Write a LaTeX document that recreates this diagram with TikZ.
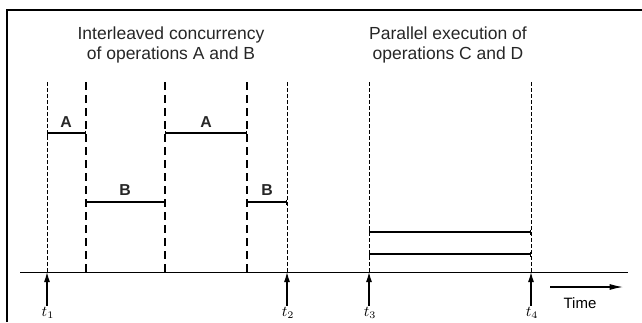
\documentclass[tikz,border=0pt]{standalone}
\usepackage{fontspec}
\setmainfont{Liberation Sans}
\usetikzlibrary{arrows.meta,positioning}

\begin{document}
\begin{tikzpicture}[x=0.6pt, y=-0.6pt,
  fine/.style={dash pattern=on 2.4pt off 1.2pt, line width=0.55pt},
  coarse/.style={dash pattern=on 4.8pt off 3pt, line width=0.7pt},
  span/.style={line width=0.7pt, {Bar[width=3pt]}-{Bar[width=3pt]}},
  instant/.style={-{Latex[length=6pt,width=3.6pt]}, line width=0.7pt},
  title/.style={align=center, font=\fontsize{10.5}{12}\selectfont, text=black!85},
  seg/.style={font=\fontsize{9.5}{11}\selectfont\bfseries, text=black!85, inner sep=1pt},
  tlabel/.style={font=\fontsize{9}{10}\selectfont, inner sep=1pt}
]
\useasboundingbox (0,0) rectangle (642,322);
% frame
\draw[line width=1.2pt] (7,322) |- (642,10);

% titles
\node[title] (inter) at (171,45) {Interleaved concurrency\\of operations A and B};
\node[title] (para) at (448,45) {Parallel execution of\\operations C and D};

% time axis
\coordinate (axl) at (20,272);
\coordinate (axr) at (628,272);
\draw[line width=0.6pt] (axl) -- (axr);

% time marks: top and axis points
\coordinate (m1) at (47,82);  \coordinate (a1) at (47,272);
\coordinate (m2) at (86,82);  \coordinate (a2) at (86,272);
\coordinate (m3) at (165,82); \coordinate (a3) at (165,272);
\coordinate (m4) at (247,82); \coordinate (a4) at (247,272);
\coordinate (m5) at (287,82); \coordinate (a5) at (287,272);
\coordinate (m6) at (369,82); \coordinate (a6) at (369,272);
\coordinate (m7) at (531,82); \coordinate (a7) at (531,272);

\draw[fine] (m1) -- (a1);
\draw[coarse] (m2) -- (a2);
\draw[coarse] (m3) -- (a3);
\draw[coarse] (m4) -- (a4);
\draw[fine] (m5) -- (a5);
\draw[fine] (m6) -- (a6);
\draw[fine] (m7) -- (a7);

% operation A
\draw[span] (47,133) coordinate (aS1) -- (86,133) coordinate (aE1);
\draw[span] (165,133) coordinate (aS2) -- (247,133) coordinate (aE2);
\node[seg] (opA1) at (66,122) {A};
\node[seg] (opA2) at (206,122) {A};

% operation B
\draw[span] (86,202) coordinate (bS1) -- (165,202) coordinate (bE1);
\draw[span] (247,202) coordinate (bS2) -- (287,202) coordinate (bE2);
\node[seg] (opB1) at (125,190) {B};
\node[seg] (opB2) at (267,190) {B};

% operations C and D
\draw[span] (369,232) coordinate (cS) -- (531,232) coordinate (cE);
\draw[span] (369,254) coordinate (dS) -- (531,254) coordinate (dE);

% instants
\node[tlabel] (t1) at (48,313) {$t_1$};
\node[tlabel] (t2) at (288,313) {$t_2$};
\node[tlabel] (t3) at (370,313) {$t_3$};
\node[tlabel] (t4) at (532,313) {$t_4$};
\draw[instant] (t1.north -| a1) -- (a1);
\draw[instant] (t2.north -| a5) -- (a5);
\draw[instant] (t3.north -| a6) -- (a6);
\draw[instant] (t4.north -| a7) -- (a7);

% time direction
\coordinate (tdl) at (550,287);
\coordinate (tdr) at (623,287);
\draw[-{Latex[length=8pt,width=3.6pt]}, line width=0.7pt] (tdl) -- (tdr);
\node[font=\fontsize{9}{10}\selectfont] (time) at (580,303) {Time};
\end{tikzpicture}
\end{document}
